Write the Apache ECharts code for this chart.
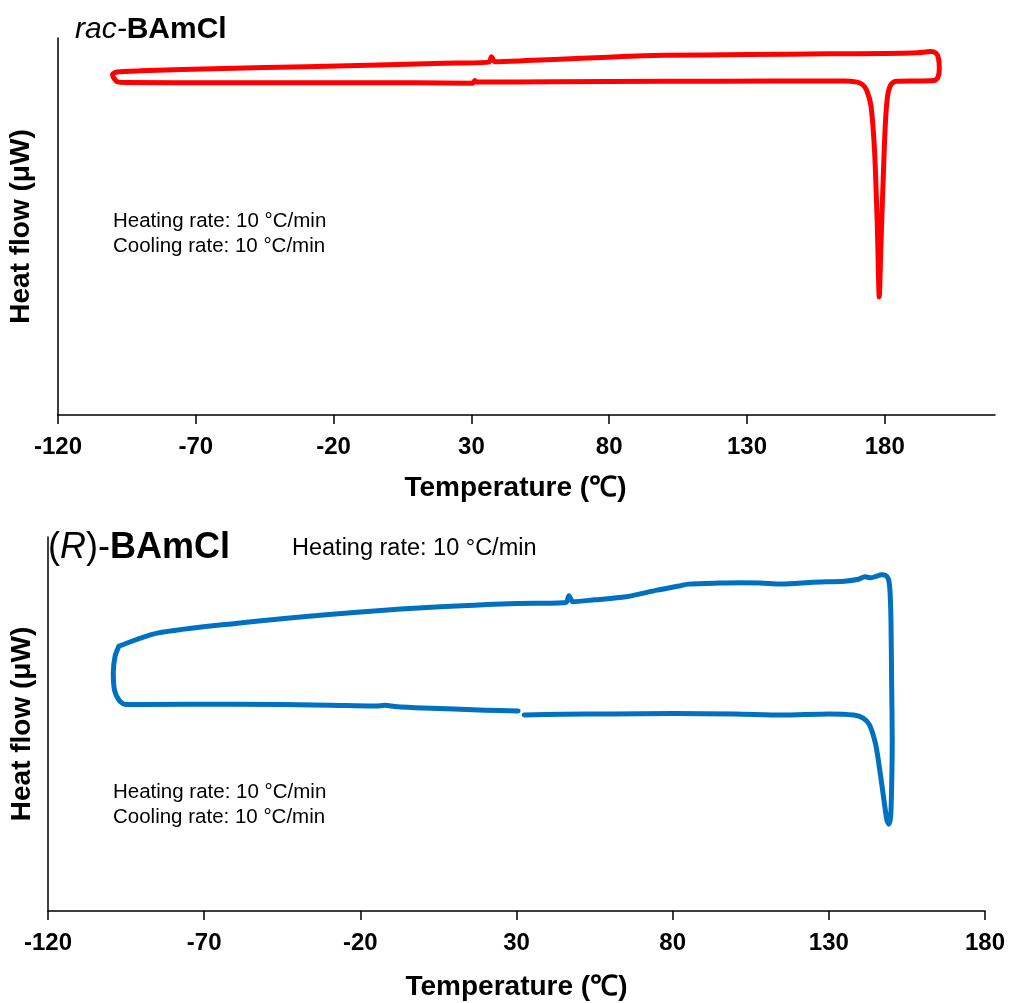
<!DOCTYPE html>
<html>
<head>
<meta charset="utf-8">
<title>DSC heat flow curves</title>
<script src="https://cdn.jsdelivr.net/npm/echarts@6/dist/echarts.min.js"></script>
<style>
  html, body { margin: 0; padding: 0; background: #ffffff; }
  #chart { width: 1009px; height: 1003px; }
</style>
</head>
<body>
<div id="chart"></div>
<script>
// Temperature tick labels (°C)
const tempTicksTop = [-120, -70, -20, 30, 80, 130, 180];
const tempTicksBottom = [-120, -70, -20, 30, 80, 130, 180];

// rac-BAmCl heating/cooling loop: [temperature °C, heat flow (arb. units)]
const racLoop = [
  [-100, 89.7], [-98.5, 88.4], [-95, 88.2], [-60, 88.1], [-20, 88.1], [10, 88.1],
  [30.5, 88.0], [31.2, 88.7], [32, 88.3], [60, 88.4], [100, 88.5], [140, 88.6],
  [165, 88.6], [170, 88.3], [172, 87.6], [173.5, 86.0], [175, 82.0], [176.3, 70.0],
  [177.3, 50.0], [178, 31.3], [178.6, 45.0], [179.4, 62.0], [180.2, 77.0], [181, 84.5],
  [182.2, 87.6], [184, 88.5], [192, 88.6], [198, 88.7], [199.3, 89.6], [199.8, 92.0],
  [199.5, 94.6], [198.6, 96.0], [196.5, 96.4], [192, 96.1], [180, 95.9], [160, 95.8],
  [130, 95.6], [100, 95.4], [85, 95.1], [70, 94.6], [50, 94.0], [38.5, 93.7],
  [37.3, 95.0], [36.3, 93.6], [20, 93.3], [0, 92.9], [-30, 92.4], [-60, 91.9],
  [-90, 91.3], [-98.5, 91.0], [-100.2, 90.4], [-100, 89.7]
];

// (R)-BAmCl heating/cooling loop: [temperature °C, heat flow (arb. units)]
const rLoop = [
  [-97.3, 70.8], [-98.5, 68.2], [-99.1, 63.7], [-98.7, 59.0], [-97.3, 56.4], [-95.5, 55.3],
  [-90, 55.2], [-60, 55.3], [-30, 55.0], [-15, 54.8], [-12, 55.0], [-9, 54.7],
  [0, 54.3], [20, 53.7], [30.5, 53.5], null,
  [32.5, 52.4], [45, 52.6], [60, 52.7], [80, 52.8], [100, 52.7], [115, 52.4],
  [130, 52.7], [138, 52.4], [141, 51.6], [143, 49.8], [145, 44.5], [146.5, 36.6],
  [147.8, 28.7], [148.6, 24.3], [149.2, 23.2], [149.8, 25.3], [150.1, 32.7], [150.3, 45.8],
  [150.1, 61.6], [149.9, 77.4], [149.6, 85.3], [149.1, 88.7], [148.1, 89.8], [146.8, 89.9],
  [145.2, 89.5], [143.5, 89.1], [141.5, 89.4], [139.5, 88.7], [135, 88.2], [125, 87.9],
  [115, 87.4], [108, 87.7], [102, 87.8], [95, 87.7], [85, 87.4], [82, 86.9],
  [75, 85.8], [65, 84.0], [55, 83.2], [48, 82.7], [46.8, 84.3], [45.8, 82.5],
  [30, 82.2], [0, 81.1], [-30, 79.3], [-60, 76.9], [-85, 74.3], [-97.3, 70.8]
];

const rateText = ['Heating rate: 10 °C/min', 'Cooling rate: 10 °C/min'];

const textFont = 'Arial, "Liberation Sans", sans-serif';

function xAxisFor(gridIndex, max, ticks, gap, namePad) {
  return {
    type: 'value', gridIndex, min: -120, max, interval: 50,
    name: 'Temperature (\u2103)', nameLocation: 'middle', nameGap: gap,
    nameTextStyle: { fontFamily: textFont, fontWeight: 'bold', fontSize: 28, color: '#000', padding: namePad },
    axisLine: { show: true, onZero: false, lineStyle: { color: '#000', width: 1.5 } },
    axisTick: { show: true, length: 9, inside: false, customValues: ticks, lineStyle: { color: '#000', width: 1.5 } },
    axisLabel: { customValues: ticks, margin: 20, fontFamily: textFont, fontWeight: 'bold', fontSize: 24, color: '#000' },
    splitLine: { show: false }
  };
}

function yAxisFor(gridIndex, gap) {
  return {
    type: 'value', gridIndex, min: 0, max: 100,
    name: 'Heat flow (\u03bcW)', nameLocation: 'middle', nameGap: gap, nameRotate: 90,
    nameTextStyle: { fontFamily: textFont, fontWeight: 'bold', fontSize: 28, color: '#000' },
    axisLine: { show: true, onZero: false, lineStyle: { color: '#000', width: 1.5 } },
    axisTick: { show: false }, axisLabel: { show: false }, splitLine: { show: false }
  };
}

const chart = echarts.init(document.getElementById('chart'), null, { renderer: 'canvas' });

chart.setOption({
  backgroundColor: '#ffffff',
  animation: false,
  grid: [
    { left: 58, right: 14, top: 38, bottom: 588, containLabel: false, outerBoundsMode: 'none' },
    { left: 48, right: 24, top: 537, bottom: 92, containLabel: false, outerBoundsMode: 'none' }
  ],
  xAxis: [xAxisFor(0, 220, tempTicksTop, 59, [0, 22, 0, 0]), xAxisFor(1, 180, tempTicksBottom, 62, [0, 0, 0, 0])],
  yAxis: [yAxisFor(0, 23), yAxisFor(1, 12)],
  series: [
    {
      name: 'rac-BAmCl', type: 'line', xAxisIndex: 0, yAxisIndex: 0,
      data: racLoop, showSymbol: false, smooth: 0.25, connectNulls: false,
      lineStyle: { color: '#ff0000', width: 5, cap: 'round', join: 'round' }
    },
    {
      name: '(R)-BAmCl', type: 'line', xAxisIndex: 1, yAxisIndex: 1,
      data: rLoop, showSymbol: false, smooth: 0.25, connectNulls: false,
      lineStyle: { color: '#0070c0', width: 5, cap: 'round', join: 'round' }
    }
  ],
  graphic: [
    {
      type: 'text', left: 75, top: 15,
      style: {
        text: '{i|rac-}{b|BAmCl}',
        rich: {
          i: { fontFamily: textFont, fontStyle: 'italic', fontSize: 30, fill: '#000' },
          b: { fontFamily: textFont, fontWeight: 'bold', fontSize: 30, fill: '#000' }
        }
      }
    },
    {
      type: 'text', left: 48, top: 530,
      style: {
        text: '{n|(}{i|R}{n|)-}{b|BAmCl}',
        rich: {
          n: { fontFamily: textFont, fontSize: 36, fill: '#000' },
          i: { fontFamily: textFont, fontStyle: 'italic', fontSize: 36, fill: '#000' },
          b: { fontFamily: textFont, fontWeight: 'bold', fontSize: 36, fill: '#000' }
        }
      }
    },
    {
      type: 'text', left: 292, top: 537,
      style: { text: rateText[0], fontFamily: textFont, fontSize: 23.5, fill: '#000' }
    },
    {
      type: 'text', left: 113, top: 209,
      style: { text: rateText.join('\n'), fontFamily: textFont, fontSize: 20.5, lineHeight: 25, fill: '#000' }
    },
    {
      type: 'text', left: 113, top: 780,
      style: { text: rateText.join('\n'), fontFamily: textFont, fontSize: 20.5, lineHeight: 25, fill: '#000' }
    }
  ]
});
</script>
</body>
</html>
